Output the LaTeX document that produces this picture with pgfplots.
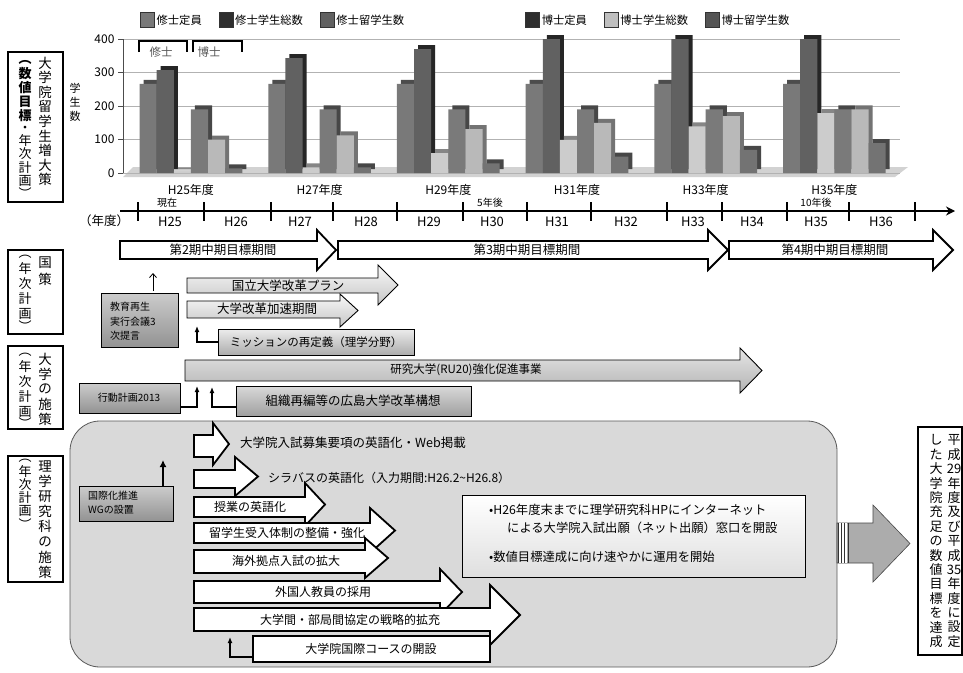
\documentclass[border=0pt]{standalone}
\usepackage{pgfplots}
\pgfplotsset{compat=1.18}
\usepackage{pgfplotstable}
\usepackage{fontspec}
\setmainfont{Noto Sans CJK JP}
\usetikzlibrary{arrows.meta}

\newcommand\fs[1]{\fontsize{#1}{#1}\selectfont}
% block arrow: style, x0, head base, tip, body top, body bottom, head top, head bottom
\newcommand\barrow[8]{\draw[#1] (#2,#5) -- (#3,#5) -- (#3,#7) -- (#4,{(#7+#8)/2}) -- (#3,#8) -- (#3,#6) -- (#2,#6) -- cycle;}

% students per year (H25 ... H35)
\pgfplotstableread{
x mt ms mr dt ds dr
0 266 307 5   190 100 14
1 266 343 17  190 112 17
2 266 370 59  190 131 29
3 266 400 99  190 150 49
4 266 400 139 190 170 69
5 266 400 179 190 190 89
}\students

\pgfplotsset{
  frontbar/.style={ybar, bar width=0.133, bar shift=#1, draw=none, forget plot},
  backbar/.style={ybar, bar width=0.133, bar shift=#1, draw=none, forget plot, xshift=4pt, yshift=4pt},
}

\begin{document}
\begin{tikzpicture}
\path[use as bounding box, fill=white] (0pt,0pt) rectangle (963pt,-672pt);

% floor of the chart
\begin{scope}[x=1pt,y=-1pt]
  \fill[gray!35] (123,177) -- (895,177) -- (908,167) -- (133,167) -- cycle;
\end{scope}

\begin{axis}[
  at={(123pt,-173pt)}, anchor=south west,
  scale only axis, width=777pt, height=134pt,
  xmin=-0.528, xmax=5.51, ymin=0, ymax=400,
  clip=false,
  axis x line*=bottom, axis y line*=left,
  x axis line style={draw=none},
  y axis line style={black!70},
  xtick={0,...,5},
  xticklabels={H25年度,H27年度,H29年度,H31年度,H33年度,H35年度},
  xtick style={draw=none},
  ytick={0,100,200,300,400},
  ytick style={black!70},
  tick align=outside, major tick length=5pt,
  ymajorgrids, grid style={gray!60, line width=0.8pt},
  tick label style={font=\fs{12}},
  /pgf/number format/assume math mode=true,
  xticklabel style={yshift=-3pt},
  legend columns=6,
  legend image code/.code={\draw[#1] (0pt,-7pt) rectangle (14pt,8pt);},
  legend style={draw=none, fill=none, font=\fs{11.3}, inner sep=0pt,
    at={(axis description cs:0.0219,1)}, anchor=south west, yshift=11pt,
    /tikz/every even column/.append style={column sep=15pt}},
]
\addlegendimage{draw=black!80, fill=gray!95!black}
\addlegendentry{修士定員}
\addlegendimage{draw=black!80, fill=black!82}
\addlegendentry{修士学生総数}
\addlegendimage{draw=black!80, fill=black!62}
\addlegendentry{\makebox[172pt][l]{修士留学生数}}
\addlegendimage{draw=black!80, fill=black!82}
\addlegendentry{博士定員}
\addlegendimage{draw=black!80, fill=gray!50}
\addlegendentry{博士学生総数}
\addlegendimage{draw=black!80, fill=black!67}
\addlegendentry{博士留学生数}

\addplot[backbar=-0.3325, fill=black!70] table[x=x,y=mt]{\students};
\addplot[frontbar=-0.3325, fill=gray!95!black] table[x=x,y=mt]{\students};
\addplot[backbar=-0.1995, fill=black!85] table[x=x,y=ms]{\students};
\addplot[frontbar=-0.1995, fill=black!62] table[x=x,y=ms]{\students};
\addplot[backbar=-0.0665, fill=gray!95] table[x=x,y=mr]{\students};
\addplot[frontbar=-0.0665, fill=gray!40] table[x=x,y=mr]{\students};
\addplot[backbar=0.0665, fill=black!72] table[x=x,y=dt]{\students};
\addplot[frontbar=0.0665, fill=black!52] table[x=x,y=dt]{\students};
\addplot[backbar=0.1995, fill=black!55] table[x=x,y=ds]{\students};
\addplot[frontbar=0.1995, fill=gray!55] table[x=x,y=ds]{\students};
\addplot[backbar=0.3325, fill=black!72] table[x=x,y=dr]{\students};
\addplot[frontbar=0.3325, fill=gray!90!black] table[x=x,y=dr]{\students};
\end{axis}

\begin{scope}[x=1pt,y=-1pt, every node/.style={inner sep=0pt}]
% chart annotations
\foreach \c/\y in {学/88,生/102,数/116} \node[font=\fs{11}] at (75,\y) {\c};
\draw[line width=1.5pt] (139,52) -- (139,41) -- (187,41) -- (187,52);
\draw[line width=1.5pt] (193,52) -- (193,41) -- (242,41) -- (242,52);
\node[font=\fs{11.5}, text=black!65] at (161,52) {修士};
\node[font=\fs{11.5}, text=black!65] at (209,52) {博士};

% left row labels
\begin{scope}[line width=1.2pt]
\draw (8,52) rectangle (63,202);
\draw (8,250) rectangle (63,334);
\draw (8,346) rectangle (63,429);
\draw (8,456) rectangle (63,582);
\end{scope}
\foreach \c [count=\i from 0] in {大,学,院,留,学,生,増,大,策}
  \node[font=\fs{13.5}] at (45,{63+\i*14.6}) {\c};
\foreach \c/\y in {︵/62,数/74,値/88,目/102,標/116}
  \node[font=\fs{13}\bfseries] at (25,\y) {\c};
\foreach \c/\y in {・/129,年/141,次/154,計/168,画/181,︶/193}
  \node[font=\fs{13}] at (25,\y) {\c};
\foreach \c/\y in {国/263,策/279} \node[font=\fs{13.5}] at (45,\y) {\c};
\foreach \c/\y in {︵/257,年/269,次/284,計/299,画/314,︶/326} \node[font=\fs{13}] at (25,\y) {\c};
\foreach \c [count=\i from 0] in {大,学,の,施,策} \node[font=\fs{13.5}] at (45,{359+\i*15}) {\c};
\foreach \c/\y in {︵/355,年/367,次/382,計/397,画/412,︶/423} \node[font=\fs{13}] at (25,\y) {\c};
\foreach \c [count=\i from 0] in {理,学,研,究,科,の,施,策} \node[font=\fs{13.5}] at (45,{466+\i*15.2}) {\c};
\foreach \c/\y in {︵/461,年/472,次/485,計/498,画/511,︶/524} \node[font=\fs{13}] at (25,\y) {\c};

% time line
\draw[line width=1.6pt, -{Stealth[length=9pt,width=9pt]}] (120,211) -- (955,211);
\foreach \x in {138,204,271,333,397,463,527,591,667,722,787,849,915}
  \draw[line width=1.8pt] (\x,202) -- (\x,221);
\foreach \x/\t in {170/H25,236/H26,300/H27,366/H28,429/H29,492/H30,557/H31,626/H32,693/H33,752/H34,816/H35,881/H36}
  \node[font=\fs{13}] at (\x,222) {\t};
\node[font=\fs{12.5}] at (104,221) {（年度）};
\node[font=\fs{10}] at (167,203) {現在};
\node[font=\fs{10}] at (490,203) {5年後};
\node[font=\fs{10}] at (816,203) {10年後};

% mid-term plan periods
\begin{scope}[every path/.style={fill=white, draw=black, line width=1.8pt, line join=miter}]
\barrow{}{120}{317}{336}{241}{259}{230}{270}
\barrow{}{338}{708}{728}{241}{259}{230}{270}
\barrow{}{729}{933}{953}{241}{259}{230}{270}
\end{scope}
\node[font=\fs{12.5}] at (223,250) {第2期中期目標期間};
\node[font=\fs{12.5}] at (527,250) {第3期中期目標期間};
\node[font=\fs{12.5}] at (835,250) {第4期中期目標期間};

% national policy
\barrow{top color=gray!5, bottom color=gray!45, draw=black, line width=0.9pt}{187}{378}{398}{278}{293}{265}{305}
\node[font=\fs{12.5}] at (288,286) {国立大学改革プラン};
\barrow{top color=gray!5, bottom color=gray!45, draw=black, line width=0.9pt}{187}{340}{358}{301}{318}{294}{327}
\node[font=\fs{12.5}] at (267,309) {大学改革加速期間};
\draw[top color=gray!40, bottom color=gray!85, draw=black, line width=0.7pt] (101,293) rectangle (178,347);
\node[font=\fs{10}, anchor=west] at (110,307) {教育再生};
\node[font=\fs{10}, anchor=west] at (110,322) {実行会議3};
\node[font=\fs{10}, anchor=west] at (110,336) {次提言};
\draw[line width=0.8pt, -{Straight Barb[length=4pt,width=7pt]}] (153,291) -- (153,273);
\draw[top color=gray!15, bottom color=gray!65, draw=black, line width=0.7pt] (218,329) rectangle (414,355);
\node[font=\fs{11.5}] at (316,342) {ミッションの再定義（理学分野）};
\draw[line width=1.2pt, -{Latex[length=6pt,width=5pt]}] (218,342) -| (197,326);

% university policy
\barrow{top color=gray!20, bottom color=gray!60, draw=black, line width=0.9pt}{185}{740}{762}{360}{381}{348}{393}
\node[font=\fs{11.5}] at (466,370) {研究大学(RU20)強化促進事業};
\draw[top color=gray!40, bottom color=gray!85, draw=black, line width=0.7pt] (79,383) rectangle (180,413);
\node[font=\fs{10}] at (129,398) {行動計画2013};
\draw[line width=1.2pt, -{Latex[length=6pt,width=5pt]}] (180,407) -| (197,386);
\draw[top color=gray!30, bottom color=gray!75, draw=black, line width=0.7pt] (236,386) rectangle (471,416);
\node[font=\fs{12.5}] at (353,401) {組織再編等の広島大学改革構想};
\draw[line width=1.2pt, -{Latex[length=6pt,width=5pt]}] (236,407) -| (212,387);

% graduate school policy
\draw[fill=gray!30, draw=gray!70!black, line width=0.8pt, rounded corners=30pt] (70,421) rectangle (837,667);
\draw[top color=gray!40, bottom color=gray!85, draw=black, line width=0.7pt] (79,486) rectangle (173,521);
\node[font=\fs{10}, anchor=west] at (88,496) {国際化推進};
\node[font=\fs{10}, anchor=west] at (88,510) {WGの設置};
\draw[line width=1.8pt, -{Latex[length=7pt,width=7pt]}] (163,486) -- (163,460);

\begin{scope}[every path/.style={fill=white, draw=black, line width=1.8pt, line join=miter}]
\barrow{}{194}{213}{229}{435}{457}{423}{465}
\end{scope}
\node[font=\fs{12.5}, anchor=west] at (240,443) {大学院入試募集要項の英語化・Web掲載};
\begin{scope}[every path/.style={fill=white, draw=black, line width=1.8pt, line join=miter}]
\barrow{}{194}{235}{258}{470}{488}{457}{496}
\end{scope}
\node[font=\fs{12}, anchor=west] at (268,478) {シラバスの英語化（入力期間:H26.2\textasciitilde H26.8）};
\begin{scope}[every path/.style={fill=white, draw=black, line width=1.8pt, line join=miter}]
\barrow{}{194}{305}{325}{497}{517}{483}{526}
\end{scope}
\node[font=\fs{12}] at (250,507) {授業の英語化};
\begin{scope}[every path/.style={fill=white, draw=black, line width=1.8pt, line join=miter}]
\barrow{}{194}{370}{395}{523}{543}{508}{553}
\end{scope}
\node[font=\fs{12}] at (287,533) {留学生受入体制の整備・強化};
\begin{scope}[every path/.style={fill=white, draw=black, line width=1.8pt, line join=miter}]
\barrow{}{194}{365}{388}{550}{573}{538}{578}
\end{scope}
\node[font=\fs{12}] at (286,561) {海外拠点入試の拡大};
\begin{scope}[every path/.style={fill=white, draw=black, line width=1.8pt, line join=miter}]
\barrow{}{194}{440}{462}{581}{603}{569}{615}
\end{scope}
\node[font=\fs{12}] at (323,592) {外国人教員の採用};
\begin{scope}[every path/.style={fill=white, draw=black, line width=1.8pt, line join=miter}]
\barrow{}{194}{490}{520}{608}{631}{585}{645}
\end{scope}
\node[font=\fs{12}] at (350,620) {大学間・部局間協定の戦略的拡充};
\draw[fill=white, draw=black, line width=1.8pt] (253,636) rectangle (490,662);
\node[font=\fs{12}] at (371,649) {大学院国際コースの開設};
\draw[line width=1.2pt, -{Latex[length=6pt,width=5pt]}] (253,657) -| (230,637);

\draw[top color=white, bottom color=gray!25, draw=black, line width=0.8pt] (462,495) rectangle (805,577);
\node[font=\fs{12.3}, anchor=west] at (489,510) {•H26年度末までに理学研究科HPにインターネット};
\node[font=\fs{12.3}, anchor=west] at (507,528) {による大学院入試出願（ネット出願）窓口を開設};
\node[font=\fs{12.3}, anchor=west] at (489,557) {•数値目標達成に向け速やかに運用を開始};

% result
\barrow{fill=gray!65, draw=gray!55!black, line width=0.6pt}{837}{873}{910}{523}{563}{505}{582}
\fill[white] (839,523) rectangle (847,563);
\foreach \x in {838,841,844,848} \draw[gray!40!black, line width=0.6pt] (\x,523) -- (\x,563);
\draw[line width=1.5pt] (918,427) rectangle (962,655);
\foreach \c [count=\i from 0] in {平,成,29,年,度,及,び,平,成,35,年,度,に,設,定}
  \node[font=\fs{13}] at (954,{440+\i*14.4}) {\c};
\foreach \c [count=\i from 0] in {し,た,大,学,院,充,足,の,数,値,目,標,を,達,成}
  \node[font=\fs{13}] at (936,{440+\i*14.4}) {\c};
\end{scope}
\end{tikzpicture}
\end{document}
